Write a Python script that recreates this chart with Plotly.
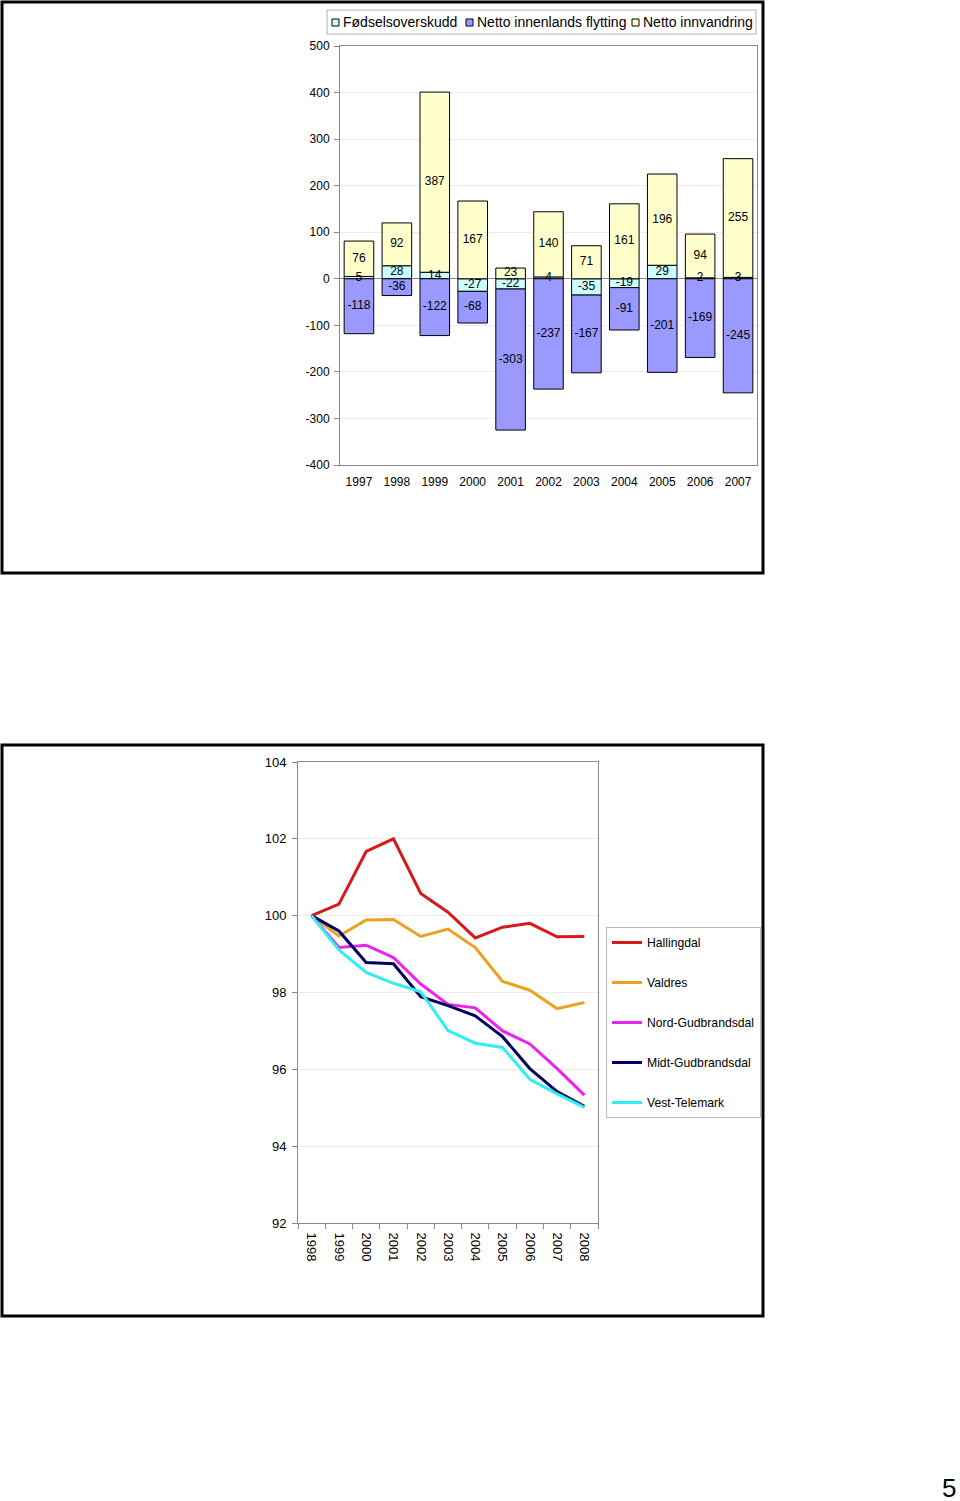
import plotly.graph_objects as go

# ---- Top chart data ----
years_top = ["1997", "1998", "1999", "2000", "2001", "2002", "2003", "2004", "2005", "2006", "2007"]
fodsel = [5, 28, 14, -27, -22, 4, -35, -19, 29, 2, 3]
flytting = [-118, -36, -122, -68, -303, -237, -167, -91, -201, -169, -245]
innvandring = [76, 92, 387, 167, 23, 140, 71, 161, 196, 94, 255]
top_ticks = [-400, -300, -200, -100, 0, 100, 200, 300, 400, 500]
top_names = ["Fødselsoverskudd", "Netto innenlands flytting", "Netto innvandring"]
top_colors = ["#ccffff", "#9999ff", "#ffffcc"]

# ---- Bottom chart data ----
years_bot = ["1998", "1999", "2000", "2001", "2002", "2003", "2004", "2005", "2006", "2007", "2008"]
hallingdal = [100, 100.30, 101.67, 102.0, 100.58, 100.09, 99.42, 99.70, 99.80, 99.45, 99.46]
valdres = [100, 99.47, 99.89, 99.90, 99.46, 99.65, 99.17, 98.29, 98.06, 97.58, 97.74]
nord_gud = [100, 99.17, 99.23, 98.91, 98.22, 97.69, 97.60, 97.00, 96.66, 96.02, 95.33]
midt_gud = [100, 99.60, 98.78, 98.75, 97.89, 97.66, 97.39, 96.85, 96.02, 95.42, 95.04]
vest_tel = [100, 99.11, 98.52, 98.24, 98.02, 97.01, 96.68, 96.57, 95.74, 95.36, 95.01]
bot_ticks = [92, 94, 96, 98, 100, 102, 104]
bot_names = ["Hallingdal", "Valdres", "Nord-Gudbrandsdal", "Midt-Gudbrandsdal", "Vest-Telemark"]
bot_colors = ["#d7191c", "#eea020", "#ee22ee", "#000066", "#33eeee"]

W, H = 960, 1501
FONT = "Arial, Liberation Sans, sans-serif"


def px(x):
    return x / W


def py(y):
    return 1 - y / H


fig = go.Figure()

# stacked bars (relative stacking, same order as the reference)
series_top = [fodsel, flytting, innvandring]
for name, vals, col in zip(top_names, series_top, top_colors):
    fig.add_trace(go.Bar(
        x=years_top, y=vals, name=name,
        marker=dict(color=col, line=dict(color="#000000", width=1)),
        width=0.78, xaxis="x", yaxis="y", showlegend=False,
        hoverinfo="x+y+name",
    ))

# data labels at the middle of every stacked segment, drawn above all bars
pos_base = [0.0] * len(years_top)
neg_base = [0.0] * len(years_top)
for vals in series_top:
    mids = []
    for i, v in enumerate(vals):
        if v >= 0:
            mids.append(pos_base[i] + v / 2)
            pos_base[i] += v
        else:
            mids.append(neg_base[i] + v / 2)
            neg_base[i] += v
    fig.add_trace(go.Scatter(
        x=years_top, y=mids, mode="text", text=[str(v) for v in vals],
        textposition="middle center",
        textfont=dict(size=12, color="#000000", family=FONT),
        xaxis="x", yaxis="y", showlegend=False, hoverinfo="skip",
    ))

bot_series = [hallingdal, valdres, nord_gud, midt_gud, vest_tel]
for i, (name, vals, col) in enumerate(zip(bot_names, bot_series, bot_colors)):
    fig.add_trace(go.Scatter(
        x=years_bot, y=vals, name=name, mode="lines",
        line=dict(color=col, width=3),
        xaxis="x2", yaxis="y2", legend="legend2", legendgroup=f"g{i}",
    ))

# custom legend for the top chart (compact squares like the original)
shapes = [
    dict(type="rect", xref="paper", yref="paper", x0=px(2), x1=px(763),
         y0=py(573), y1=py(2), line=dict(color="#000000", width=3)),
    dict(type="rect", xref="paper", yref="paper", x0=px(2), x1=px(763),
         y0=py(1316), y1=py(745), line=dict(color="#000000", width=3)),
    dict(type="rect", xref="paper", yref="paper", x0=px(327), x1=px(756),
         y0=py(34), y1=py(10), line=dict(color="#b0b0b0", width=1),
         fillcolor="white"),
]
annotations = []
leg_sq_x = [332, 466, 632]
for sx, name, col in zip(leg_sq_x, top_names, top_colors):
    shapes.append(dict(type="rect", xref="paper", yref="paper",
                       x0=px(sx), x1=px(sx + 7), y0=py(26), y1=py(19),
                       line=dict(color="#000000", width=1), fillcolor=col))
    annotations.append(dict(text=name, xref="paper", yref="paper",
                            x=px(sx + 9), y=py(22.5), xanchor="left",
                            yanchor="middle", showarrow=False,
                            font=dict(size=14, color="#000000")))

annotations.append(dict(text="5", xref="paper", yref="paper", x=px(949), y=py(1488),
                        showarrow=False, font=dict(size=26, color="#000000"),
                        xanchor="center", yanchor="middle"))

fig.update_layout(
    width=W, height=H,
    margin=dict(l=0, r=0, t=0, b=0, autoexpand=False),
    paper_bgcolor="white", plot_bgcolor="white",
    font=dict(family=FONT, size=12, color="#000000"),
    barmode="relative",
    showlegend=True,
    xaxis=dict(
        domain=[px(340), px(757)], anchor="y", type="category",
        ticks="", showline=True, linecolor="#888", mirror=True, showgrid=False,
        tickfont=dict(size=12), ticklabelstandoff=6, range=[-0.5, 10.5],
    ),
    yaxis=dict(
        domain=[py(465), py(46)], anchor="x", range=[-400, 500],
        tickvals=top_ticks, ticktext=[str(t) for t in top_ticks],
        ticks="outside", ticklen=5, tickcolor="#888",
        showline=True, linecolor="#888", mirror=True,
        showgrid=True, gridcolor="#ececec", zeroline=True, zerolinecolor="#888",
        zerolinewidth=1, tickfont=dict(size=12), ticklabelstandoff=2,
    ),
    xaxis2=dict(
        domain=[px(298), px(598)], anchor="y2", type="category",
        tickson="boundaries", ticks="outside", ticklen=5, tickcolor="#888",
        showline=True, linecolor="#888", mirror=True, showgrid=False,
        tickangle=90, tickfont=dict(size=13), range=[-0.5, 10.5],
        ticklabelstandoff=6,
    ),
    yaxis2=dict(
        domain=[py(1223), py(762)], anchor="x2", range=[92, 104],
        tickvals=bot_ticks, ticktext=[str(t) for t in bot_ticks],
        ticks="outside", ticklen=5, tickcolor="#888",
        showline=True, linecolor="#888", mirror=True,
        showgrid=True, gridcolor="#ececec", zeroline=False,
        tickfont=dict(size=13), ticklabelstandoff=3,
    ),
    legend2=dict(
        orientation="v", xref="container", yref="container",
        x=px(606), xanchor="left", y=py(927), yanchor="top",
        bordercolor="#bbbbbb", borderwidth=1, font=dict(size=12.2),
        tracegroupgap=21, itemwidth=30,
    ),
    shapes=shapes,
    annotations=annotations,
)

fig.write_html("out.html", config={"displayModeBar": False},
               post_script="document.body.style.margin='0';")
